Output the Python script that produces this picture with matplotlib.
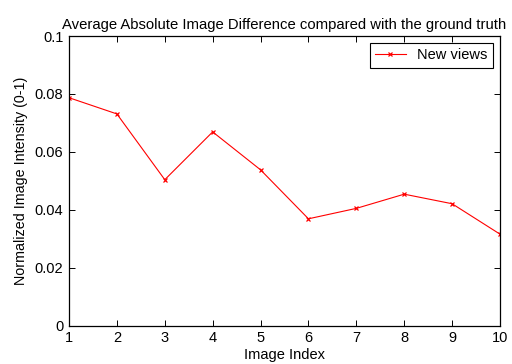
import matplotlib
matplotlib.use('Agg')
import matplotlib.pyplot as plt

plt.rcParams['font.family'] = ['Liberation Sans', 'DejaVu Sans']

image_index = [1, 2, 3, 4, 5, 6, 7, 8, 9, 10]
new_views = [0.0787, 0.0731, 0.0504, 0.0669, 0.0538, 0.0369, 0.0405, 0.0454, 0.0421, 0.0316]

fig = plt.figure(figsize=(5.12, 3.64), dpi=100)
ax = fig.add_axes([69/512, 1 - 325.7/364, (500-69)/512, (325.7-36)/364])

ax.plot(image_index, new_views, color='red', lw=0.8, marker='x', ms=3.5, mew=0.9, label='New views')

ax.set_xlim(1, 10)
ax.set_ylim(0, 0.1)
ax.set_xticks(image_index)
ax.set_yticks([0, 0.02, 0.04, 0.06, 0.08, 0.1])
ax.set_yticklabels(['0', '0.02', '0.04', '0.06', '0.08', '0.1'])
ax.tick_params(direction='in', top=True, right=True, labelsize=10.5, length=4, width=0.7, pad=4)
for s in ax.spines.values():
    s.set_linewidth(0.9)

ax.set_title('Average Absolute Image Difference compared with the ground truth', fontsize=10.7, pad=5)
ax.set_xlabel('Image Index', fontsize=10.5, labelpad=2)
ax.set_ylabel('Normalized Image Intensity (0-1)', fontsize=10.3, labelpad=5)

leg = ax.legend(loc='upper right', fontsize=10.5, fancybox=False, edgecolor='black',
                framealpha=1, handlelength=2.1, borderaxespad=0.5, borderpad=0.35)
leg.get_frame().set_linewidth(0.8)

fig.savefig('out.png', dpi=100)
